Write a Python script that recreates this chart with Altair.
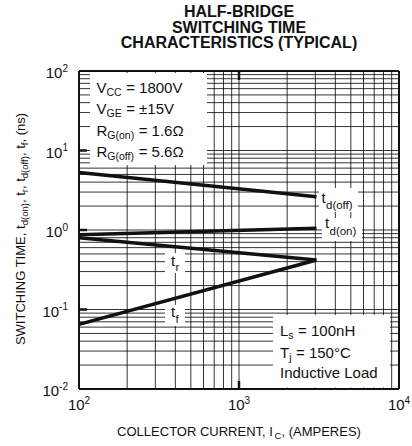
import altair as alt
import pandas as pd

# ---------------- data ----------------
current_a = [100, 3050]
t_d_off = [5.3, 2.62]
t_d_on = [0.87, 1.05]
t_r = [0.80, 0.42]
t_f = [0.065, 0.42]
series_names = ["td(off)", "td(on)", "tr", "tf"]

x_grid = [m * 10 ** e for e in (2, 3) for m in range(1, 10)] + [10000]
y_grid = [round(m * 10.0 ** e, 6) for e in (-2, -1, 0, 1) for m in range(1, 10)] + [100]

FONT = "Liberation Sans, Arial, Helvetica, sans-serif"
INK = "#111111"

# ---------------- layout ----------------
W, H = 320, 318
L, T = 79, 71
DEC_X = W / 2.0
DEC_Y = H / 4.0


def xd(ax):
    return 10 ** (2 + (ax - L) / DEC_X)


def yd(ay):
    return 10 ** (2 - (ay - T) / DEC_Y)


MET = {
    'A': 667, 'B': 667, 'C': 722, 'D': 722, 'E': 667, 'F': 611, 'G': 778, 'H': 722, 'I': 278,
    'J': 500, 'K': 667, 'L': 556, 'M': 833, 'N': 722, 'O': 778, 'P': 667, 'Q': 778, 'R': 722,
    'S': 667, 'T': 611, 'U': 722, 'V': 667, 'W': 944, 'X': 667, 'Y': 667, 'Z': 611,
    'a': 556, 'b': 556, 'c': 500, 'd': 556, 'e': 556, 'f': 278, 'g': 556, 'h': 556, 'i': 222,
    'j': 222, 'k': 500, 'l': 222, 'm': 833, 'n': 556, 'o': 556, 'p': 556, 'q': 556, 'r': 333,
    's': 500, 't': 278, 'u': 556, 'v': 500, 'w': 722, 'x': 500, 'y': 500, 'z': 500,
    ' ': 278, ',': 278, '.': 278, '-': 333, '(': 333, ')': 333, '=': 584, '±': 584,
    'Ω': 768, '°': 400,
}


def tw(s, size):
    return sum(MET.get(c, 556) for c in s) * size / 1000.0


rows = []
rows_rot = []
rows_bold = []


def add(ax, ay, text, size):
    rows.append(dict(px=xd(ax), py=yd(ay), label=text, fs=size))


def seg_line(ax, ay, segs, ms, ss, sdy, gap=0.0):
    cur = ax
    for s, sub in segs:
        sz = ss if sub else ms
        add(cur, ay + (sdy if sub else 0), s, sz)
        cur += tw(s, sz) + (gap if sub else 0)


box1 = [
    [("V", 0), ("CC", 1), ("= 1800V", 0)],
    [("V", 0), ("GE", 1), ("= ±15V", 0)],
    [("R", 0), ("G(on)", 1), ("= 1.6Ω", 0)],
    [("R", 0), ("G(off)", 1), ("= 5.6Ω", 0)],
]
for segs, yy in zip(box1, [87.5, 109, 130.5, 152]):
    seg_line(96.5, yy, segs, 15, 10.5, 5, gap=4.5)

box2 = [
    [("L", 0), ("s", 1), ("= 100nH", 0)],
    [("T", 0), ("j", 1), ("= 150°C", 0)],
    [("Inductive Load", 0)],
]
for segs, yy in zip(box2, [330.7, 352.7, 373]):
    seg_line(280, yy, segs, 15, 10.5, 5, gap=4.5)

add(321.5, 198, "t", 15); add(326, 205.5, "d(off)", 11.5)
add(325, 223, "t", 15); add(329.5, 231.5, "d(on)", 11.5)
add(171, 260.7, "t", 15); add(175.5, 268, "r", 11.5)
add(171, 311.7, "t", 15); add(175.5, 320, "f", 11.5)

xt = [("COLLECTOR CURRENT, I", 0), ("C", 1), (", (AMPERES)", 0)]
xt_w = sum(tw(s, 9.5 if sub else 13) for s, sub in xt)
seg_line(239 - xt_w / 2, 432, xt, 13, 9.5, 3.5)

w10 = tw("10", 15)
for e in (2, 3, 4):
    tick = L + (e - 2) * DEC_X
    ex = str(e)
    tot = w10 + tw(ex, 10)
    add(tick - tot / 2, 405, "10", 15)
    add(tick - tot / 2 + w10, 400.5, ex, 10)

for e in (2, 1, 0, -1, -2):
    tick = T + (2 - e) * DEC_Y
    ex = str(e)
    we = tw(ex, 10)
    add(68 - we - w10, tick + 2, "10", 15)
    add(68 - we, tick - 2.5, ex, 10)

yt = [("SWITCHING TIME, t", 0), ("d(on)", 1), (", t", 0), ("r", 1), (", t", 0),
      ("d(off)", 1), (", t", 0), ("f", 1), (", (ns)", 0)]
yt_len = sum(tw(s, 9.5 if sub else 13) for s, sub in yt)
cy = 229 + yt_len / 2
for s, sub in yt:
    sz = 9.5 if sub else 13
    rows_rot.append(dict(px=xd(21 + (3.5 if sub else 0)), py=yd(cy), label=s, fs=sz))
    cy -= tw(s, sz)

for s, yy in zip(["HALF-BRIDGE", "SWITCHING TIME", "CHARACTERISTICS (TYPICAL)"], [12, 27.5, 43]):
    rows_bold.append(dict(px=xd(239), py=yd(yy), label=s, fs=16))

boxes = [(90, 73, 207, 165), (273, 315, 390, 387.5), (319, 188, 358, 212),
         (322, 218, 362, 241), (165, 253, 185, 273), (165, 305, 185, 326)]
box_df = pd.DataFrame([dict(bx=xd(a), bx2=xd(c), by=yd(b), by2=yd(d)) for a, b, c, d in boxes])

# ---------------- charts ----------------
xs = alt.Scale(type="log", domain=[100, 10000], nice=False)
ys = alt.Scale(type="log", domain=[0.01, 100], nice=False)

df = pd.DataFrame(
    [dict(cur=xv, t=yv, series=name)
     for name, vals in zip(series_names, [t_d_off, t_d_on, t_r, t_f])
     for xv, yv in zip(current_a, vals)]
)

vgrid = alt.Chart(pd.DataFrame({"gx": x_grid})).mark_rule(color="#000000", strokeWidth=0.8).encode(
    x=alt.X("gx:Q", scale=xs, axis=None)
)
hgrid = alt.Chart(pd.DataFrame({"gy": y_grid})).mark_rule(color="#000000", strokeWidth=0.8).encode(
    y=alt.Y("gy:Q", scale=ys, axis=None)
)

white_boxes = alt.Chart(box_df).mark_rect(color="white").encode(
    x=alt.X("bx:Q", scale=xs, axis=None),
    x2="bx2:Q",
    y=alt.Y("by:Q", scale=ys, axis=None),
    y2="by2:Q",
)

lines = alt.Chart(df).mark_line(color=INK, strokeWidth=3.6, strokeCap="butt").encode(
    x=alt.X("cur:Q", scale=xs, axis=None),
    y=alt.Y("t:Q", scale=ys, axis=None),
    detail="series:N",
)

frame_v = alt.Chart(pd.DataFrame({"fx": [100, 10000]})).mark_rule(color=INK, strokeWidth=2).encode(
    x=alt.X("fx:Q", scale=xs, axis=None)
)
frame_h = alt.Chart(pd.DataFrame({"fy": [0.01, 100]})).mark_rule(color=INK, strokeWidth=2).encode(
    y=alt.Y("fy:Q", scale=ys, axis=None)
)

tick_h = alt.Chart(pd.DataFrame({"ta": [100] * 3, "tb": [xd(L + 8)] * 3, "tv": [10, 1, 0.1]})).mark_rule(
    color=INK, strokeWidth=2.5
).encode(
    x=alt.X("ta:Q", scale=xs, axis=None), x2="tb:Q",
    y=alt.Y("tv:Q", scale=ys, axis=None),
)
tick_v = alt.Chart(pd.DataFrame({"tx": [1000, 1000], "ya": [0.01, 100],
                                 "yb": [yd(T + H - 8), yd(T + 9)]})).mark_rule(
    color=INK, strokeWidth=2.5
).encode(
    x=alt.X("tx:Q", scale=xs, axis=None),
    y=alt.Y("ya:Q", scale=ys, axis=None), y2="yb:Q",
)

txt = alt.Chart(pd.DataFrame(rows)).mark_text(
    align="left", baseline="middle", font=FONT, color=INK
).encode(
    x=alt.X("px:Q", scale=xs, axis=None),
    y=alt.Y("py:Q", scale=ys, axis=None),
    text="label:N",
    size=alt.Size("fs:Q", scale=None, legend=None),
)

txt_rot = alt.Chart(pd.DataFrame(rows_rot)).mark_text(
    align="left", baseline="middle", font=FONT, color=INK, angle=270
).encode(
    x=alt.X("px:Q", scale=xs, axis=None),
    y=alt.Y("py:Q", scale=ys, axis=None),
    text="label:N",
    size=alt.Size("fs:Q", scale=None, legend=None),
)

txt_bold = alt.Chart(pd.DataFrame(rows_bold)).mark_text(
    align="center", baseline="middle", font=FONT, color=INK, fontWeight="bold"
).encode(
    x=alt.X("px:Q", scale=xs, axis=None),
    y=alt.Y("py:Q", scale=ys, axis=None),
    text="label:N",
    size=alt.Size("fs:Q", scale=None, legend=None),
)

chart = alt.layer(
    vgrid, hgrid, white_boxes, lines, frame_v, frame_h, tick_h, tick_v, txt, txt_rot, txt_bold
).properties(
    width=W, height=H,
    padding={"left": L, "top": T, "right": 412 - L - W, "bottom": 446 - T - H},
    autosize=alt.AutoSizeParams(type="none"),
    background="white",
).configure_view(strokeWidth=0)

chart.save("out.html", embed_options={"renderer": "svg", "actions": False})
